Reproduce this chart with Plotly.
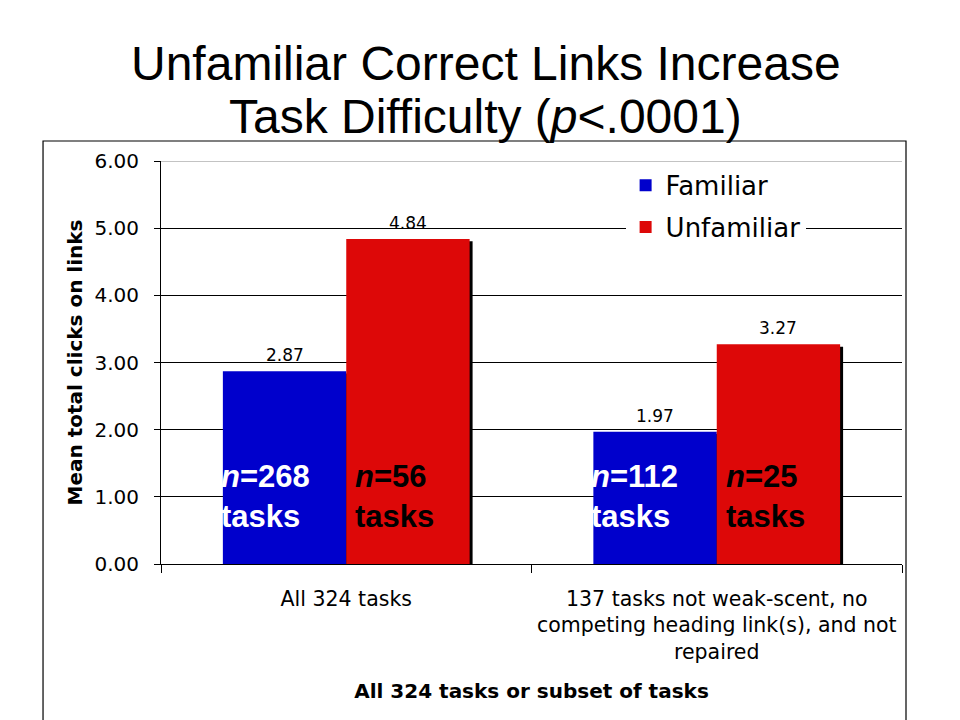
import plotly.graph_objects as go

# ---- data ----
categories = ["All 324 tasks",
              "137 tasks not weak-scent, no<br>competing heading link(s), and not<br>repaired"]
series_names = ["Familiar", "Unfamiliar"]
familiar = [2.87, 1.97]
unfamiliar = [4.84, 3.27]
n_familiar = [268, 112]
n_unfamiliar = [56, 25]
y_tickvals = [0, 1, 2, 3, 4, 5, 6]
y_ticktext = ["0.00", "1.00", "2.00", "3.00", "4.00", "5.00", "6.00"]
title_lines = ["Unfamiliar Correct Links Increase",
               "Task Difficulty (<i>p</i>&lt;.0001)"]

BLUE = "#0000CC"
RED = "#DD0808"
BW = 0.333  # bar width in category units
AX_FONT = "DejaVu Sans"

fig = go.Figure()

# shadows (drawn first, under the bars)
for vals, off in ((familiar, -BW), (unfamiliar, 0.0)):
    fig.add_trace(go.Bar(
        x=categories, y=vals, base=-0.035, width=BW, offset=off + 0.008,
        marker=dict(color="black", line=dict(width=0)),
        showlegend=False, hoverinfo="skip"))

fig.add_trace(go.Bar(
    x=categories, y=familiar, name=series_names[0], width=BW, offset=-BW,
    marker=dict(color=BLUE, line=dict(width=0)), legendgroup="a"))
fig.add_trace(go.Bar(
    x=categories, y=unfamiliar, name=series_names[1], width=BW, offset=0.0,
    marker=dict(color=RED, line=dict(width=0)), legendgroup="b"))

annotations = []
# title (two lines)
for txt, yy in zip(title_lines, (1.242, 1.110)):
    annotations.append(dict(
        x=0.438, y=yy, xref="paper", yref="paper", xanchor="center", yanchor="middle",
        text=txt, showarrow=False,
        font=dict(family="Liberation Sans", size=48, color="black")))

for i in range(len(categories)):
    # value labels above bars
    for vals, off in ((familiar, -BW), (unfamiliar, 0.0)):
        annotations.append(dict(
            x=i + off + BW / 2, y=vals[i], xref="x", yref="y",
            text=f"{vals[i]:.2f}", showarrow=False, yanchor="bottom", yshift=4,
            font=dict(family=AX_FONT, size=17, color="black")))
    # n labels inside bars
    annotations.append(dict(
        x=i - BW, y=1.0, xref="x", yref="y", xanchor="left", yanchor="middle",
        xshift=-4, align="left", showarrow=False,
        text=f"<b><i>n</i>={n_familiar[i]}<br>tasks</b>",
        font=dict(family="Liberation Sans", size=31, color="white")))
    annotations.append(dict(
        x=i, y=1.0, xref="x", yref="y", xanchor="left", yanchor="middle",
        xshift=7, align="left", showarrow=False,
        text=f"<b><i>n</i>={n_unfamiliar[i]}<br>tasks</b>",
        font=dict(family="Liberation Sans", size=31, color="black")))

shapes = [
    # outer frame (left, top, right; bottom runs off the page)
    dict(type="rect", xref="paper", yref="paper", x0=-0.1592, x1=1.0054,
         y0=-0.45, y1=1.0496, line=dict(color="black", width=1.2),
         fillcolor="rgba(0,0,0,0)", layer="below"),
    # grey top gridline
    dict(type="line", xref="paper", yref="y", x0=0, x1=1, y0=6, y1=6,
         line=dict(color="#888888", width=1)),
]

fig.update_layout(
    width=960, height=720,
    margin=dict(l=153, r=66, t=153, b=164, autoexpand=False),
    paper_bgcolor="white", plot_bgcolor="white",
    barmode="overlay",
    legend=dict(x=0.627, y=0.998, xanchor="left", yanchor="top",
                bgcolor="white", borderwidth=0, tracegroupgap=5,
                font=dict(family=AX_FONT, size=26, color="black"),
                traceorder="grouped"),
    annotations=annotations,
    shapes=shapes,
    xaxis=dict(
        type="category", range=[-0.5, 1.5], tickson="boundaries",
        ticks="outside", ticklen=8, tickcolor="black", showline=True,
        linecolor="black", linewidth=1, showgrid=False,
        tickangle=0, automargin=False,
        tickfont=dict(family=AX_FONT, size=20.5, color="black"),
        ticklabelstandoff=16,
        title=dict(text="<b>All 324 tasks or subset of tasks</b>", standoff=21,
                   font=dict(family=AX_FONT, size=20, color="black"))),
    yaxis=dict(
        range=[0, 6], tickvals=y_tickvals, ticktext=y_ticktext,
        ticks="outside", ticklen=6, tickcolor="black", showline=True,
        linecolor="black", linewidth=1, showgrid=True, gridcolor="black",
        gridwidth=1, zeroline=False, automargin=False,
        tickfont=dict(family=AX_FONT, size=20, color="black"),
        ticklabelstandoff=11,
        title=dict(text="<b>Mean total clicks on links</b>", standoff=6,
                   font=dict(family=AX_FONT, size=20, color="black"))),
)

fig.write_html("out.html")
